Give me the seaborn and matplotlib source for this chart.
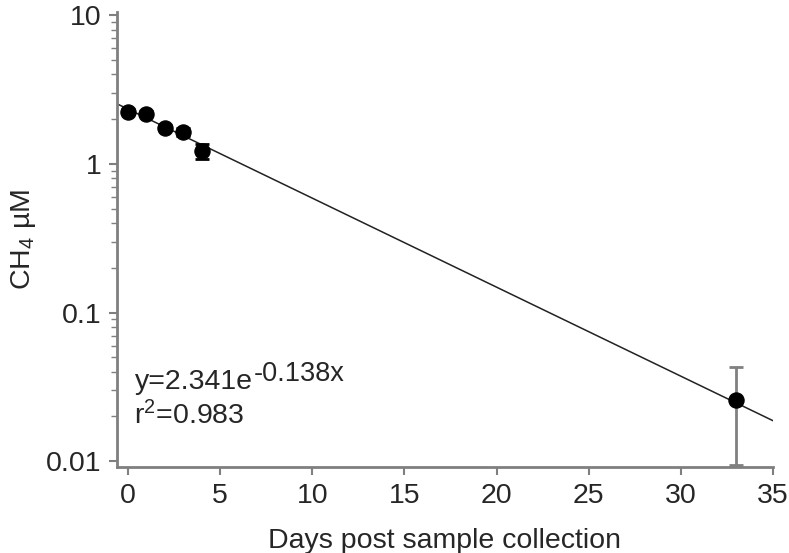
import numpy as np
import pandas as pd
import seaborn as sns
import matplotlib.pyplot as plt
from matplotlib.ticker import LogLocator, FixedLocator

# measured CH4 (µM) vs days after collection
days = [0, 1, 2, 3, 4, 33]
ch4 = [2.25, 2.18, 1.75, 1.65, 1.22, 0.026]
err_lo = [0.08, 0.08, 0.07, 0.10, 0.14, 0.0165]
err_hi = [0.08, 0.08, 0.07, 0.10, 0.14, 0.017]
err_colors = ['black', 'black', 'black', 'black', 'black', 'grey']

# exponential fit shown on the chart
fit_a = 2.341
fit_b = -0.138
fit_x = [-0.5, 35]

x_ticks = [0, 5, 10, 15, 20, 25, 30, 35]
y_ticks = [0.01, 0.1, 1, 10]
y_labels = ['0.01', '0.1', '1', '10']

sns.set_style('ticks')
plt.rcParams['font.family'] = ['Liberation Sans', 'DejaVu Sans']
plt.rcParams['mathtext.fontset'] = 'custom'
plt.rcParams['mathtext.rm'] = 'Liberation Sans'
plt.rcParams['mathtext.it'] = 'Liberation Sans'

df = pd.DataFrame({'days': days, 'ch4': ch4})
fit_df = pd.DataFrame({'days': fit_x,
                       'ch4': [fit_a * np.exp(fit_b * v) for v in fit_x]})

fig = plt.figure(figsize=(7.89, 5.53), dpi=100)
ax = fig.add_axes([0.148, 0.155, 0.832, 0.823])
ax.set_yscale('log')

sns.lineplot(data=fit_df, x='days', y='ch4', color='#222222', linewidth=1.1, ax=ax)
for i in range(len(days)):
    ax.errorbar(days[i], ch4[i], yerr=[[err_lo[i]], [err_hi[i]]], fmt='none',
                ecolor=err_colors[i], elinewidth=2, capsize=5, capthick=2)
sns.scatterplot(data=df, x='days', y='ch4', color='black', s=120,
                edgecolor='black', zorder=5, ax=ax)

ax.set_xlim(-0.6, 35)
ax.set_ylim(0.0091, 10.5)
ax.set_xticks(x_ticks)
ax.yaxis.set_major_locator(FixedLocator(y_ticks))
ax.set_yticklabels(y_labels)
ax.yaxis.set_minor_locator(LogLocator(base=10, subs=np.arange(2, 10)))
ax.yaxis.set_minor_formatter(plt.NullFormatter())

for s in ['top', 'right']:
    ax.spines[s].set_visible(False)
for s in ['left', 'bottom']:
    ax.spines[s].set_color('#7f7f7f')
    ax.spines[s].set_linewidth(2)
ax.tick_params(axis='both', which='major', length=6, width=1.5, color='#7f7f7f',
               labelsize=20.5, pad=5)
ax.tick_params(axis='y', which='minor', length=4, width=1, color='#7f7f7f')

ax.set_xlabel('Days post sample collection', fontsize=20.5, labelpad=14)
ax.set_ylabel('CH$_4$ µM', fontsize=20.5, labelpad=6)

# fit equation, superscript drawn as its own text so the hyphen stays a hyphen
t1 = ax.text(0.027, 0.187, 'y=2.341e', transform=ax.transAxes,
             fontsize=20.5, va='center')
ax.annotate('-0.138x', xy=(1, 1), xycoords=t1, xytext=(1, 6),
            textcoords='offset points', fontsize=19.5, va='top', ha='left')
ax.text(0.027, 0.114, 'r$^2$=0.983', transform=ax.transAxes,
        fontsize=20.5, va='center')

fig.savefig('out.png', dpi=100)
